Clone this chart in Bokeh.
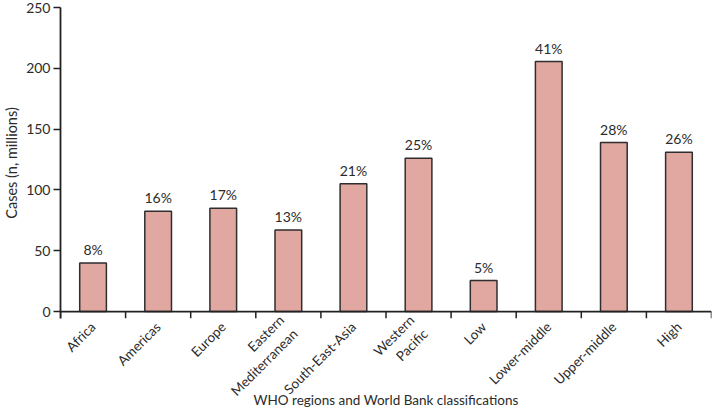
import math
from bokeh.plotting import figure
from bokeh.models import Range1d, FixedTicker, ColumnDataSource, Span
from bokeh.embed import file_html
from bokeh.resources import INLINE

categories = ["Africa", "Americas", "Europe", "Eastern\nMediterranean", "South-East-Asia",
              "Western\nPacific", "Low", "Lower-middle", "Upper-middle", "High"]
cases = [40, 82.5, 85, 67, 105, 126, 25.5, 205.5, 139, 131]
percent_labels = ["8%", "16%", "17%", "13%", "21%", "25%", "5%", "41%", "28%", "26%"]
y_ticks = [0, 50, 100, 150, 200, 250]
x_title = "WHO regions and World Bank classifications"
y_title = "Cases (n, millions)"

FONT = "Lato"
TXT = "#2b2b2b"
AX = "#222222"

n = len(categories)
centers = [i + 0.5 for i in range(n)]
bounds = list(range(n + 1))
tick_len = 5.7  # below-zero room (data units) so boundary ticks show under the axis line

p = figure(width=713, height=411, x_range=Range1d(0, n), y_range=Range1d(-tick_len, 250),
           output_backend="svg", toolbar_location=None,
           min_border_left=58, min_border_right=2, min_border_top=7, min_border_bottom=93)
p.outline_line_color = None
p.grid.visible = False
p.background_fill_color = "white"

src = ColumnDataSource(dict(x=centers, top=cases, lab=percent_labels))
p.vbar(x="x", top="top", bottom=0, width=0.41, source=src, fill_color="#e1a7a1",
       line_color="#2e2e2e", line_width=1.5)
p.text(x="x", y="top", text="lab", source=src, text_align="center", text_baseline="bottom",
       y_offset=-5, text_font_size="14px", text_color=TXT, text_font={"value": FONT})

# x axis line at zero and boundary ticks
p.add_layout(Span(location=0, dimension="width", line_color=AX, line_width=1.8))
p.segment(x0=bounds, y0=[0] * len(bounds), x1=bounds, y1=[-tick_len] * len(bounds),
          line_color=AX, line_width=1.5)

# y axis
ya = p.yaxis[0]
ya.ticker = FixedTicker(ticks=y_ticks)
ya.axis_label = y_title
ya.axis_label_text_font = FONT
ya.axis_label_text_font_style = "normal"
ya.axis_label_text_font_size = "14.5px"
ya.axis_label_text_color = TXT
ya.axis_label_standoff = 3
ya.major_label_standoff = 3
ya.major_label_text_font = FONT
ya.major_label_text_font_size = "14px"
ya.major_label_text_color = TXT
ya.major_tick_in = 0
ya.major_tick_out = 7
ya.minor_tick_line_color = None
ya.axis_line_width = 1.8
ya.axis_line_color = AX
ya.major_tick_line_color = AX
ya.major_tick_line_width = 1.5

# x axis: rotated category labels only
xa = p.xaxis[0]
xa.ticker = FixedTicker(ticks=centers)
xa.major_label_overrides = {c: lab for c, lab in zip(centers, categories)}
xa.major_label_orientation = math.pi / 4
xa.major_label_text_font = FONT
xa.major_label_text_font_size = "13.5px"
xa.major_label_text_color = TXT
xa.major_label_standoff = 0
xa.axis_line_color = None
xa.major_tick_line_color = None
xa.minor_tick_line_color = None
xa.axis_label = x_title
xa.axis_label_text_font = FONT
xa.axis_label_text_font_style = "normal"
xa.axis_label_text_font_size = "13.5px"
xa.axis_label_text_color = TXT
xa.axis_label_standoff = -22

open("out.html", "w").write(file_html(p, INLINE))
